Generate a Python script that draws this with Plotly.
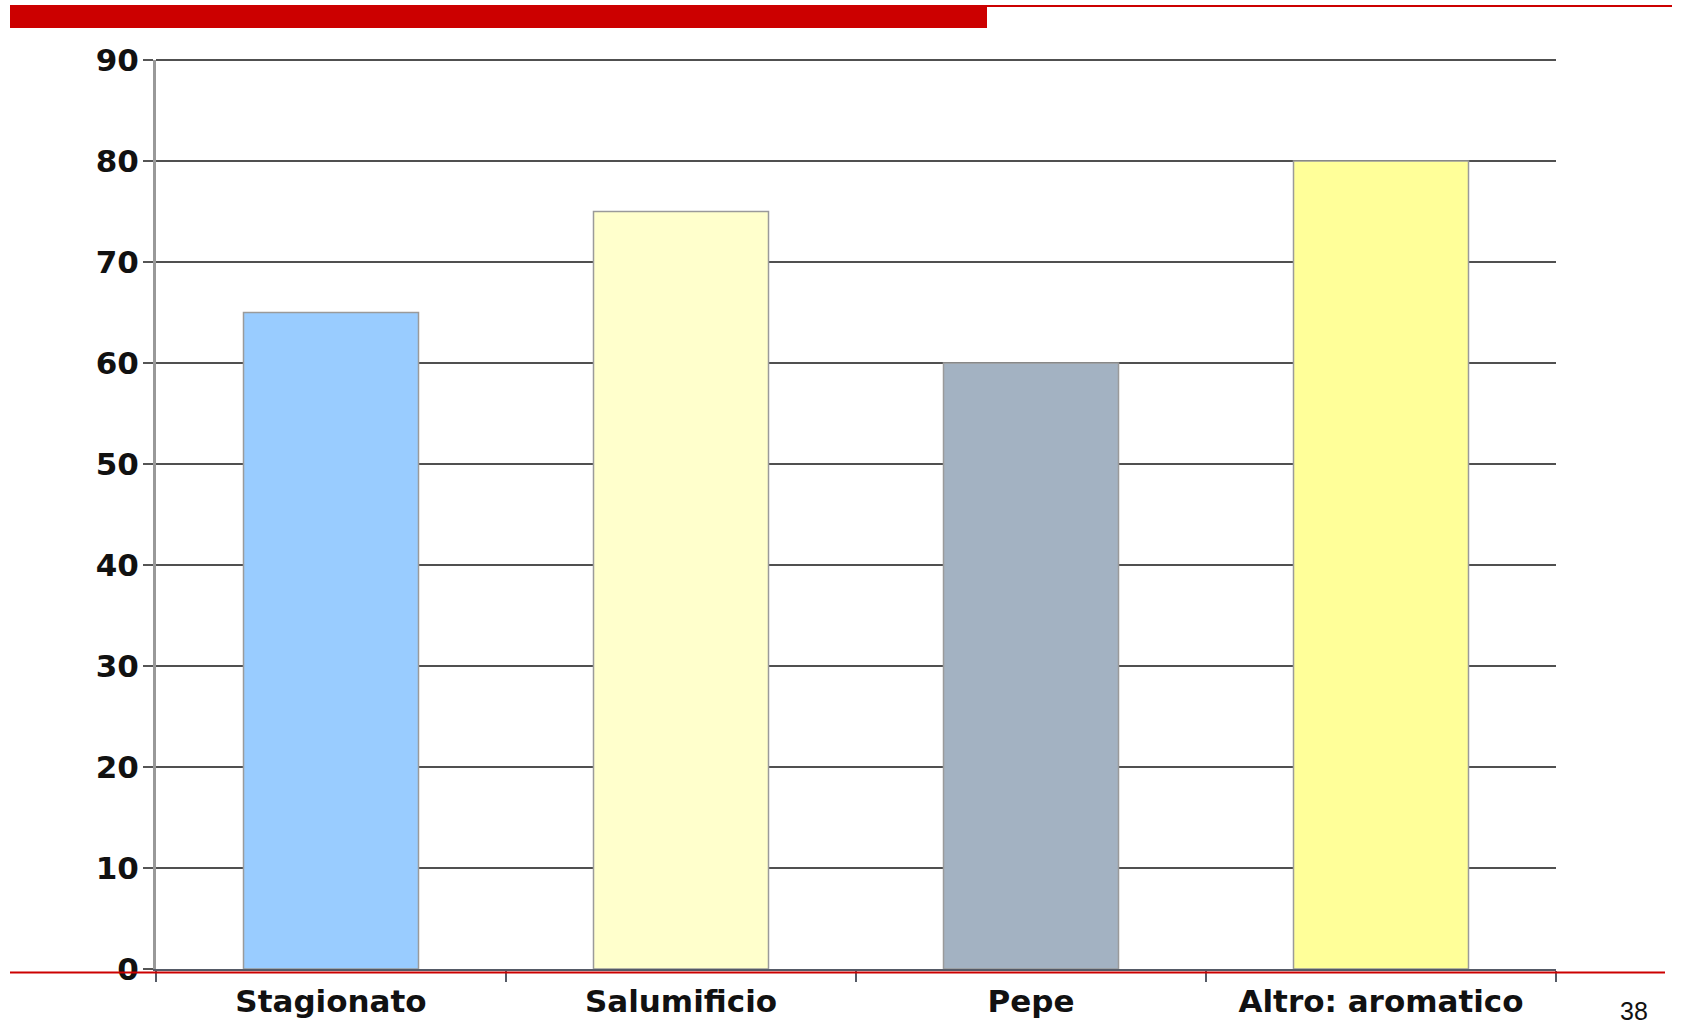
import plotly.graph_objects as go

categories = ["Stagionato", "Salumificio", "Pepe", "Altro: aromatico"]
values = [65, 75, 60, 80]
bar_colors = ["#99CCFF", "#FFFFCC", "#A3B2C2", "#FFFF99"]
y_ticks = [0, 10, 20, 30, 40, 50, 60, 70, 80, 90]
y_max = 90

W, H = 1681, 1024
L, R, T, B = 156, 125, 60, 55
pw, ph = W - L - R, H - T - B

def px(x):
    return (x - L) / pw

def py(y):
    return (H - B - y) / ph

fig = go.Figure()
fig.add_trace(go.Bar(
    x=categories, y=values,
    marker=dict(color=bar_colors, line=dict(color="#9a9a9a", width=1.5)),
    width=0.5,
))

font_bold = "DejaVu Sans"
fig.update_layout(
    width=W, height=H,
    margin=dict(l=L, r=R, t=T, b=B, pad=0, autoexpand=False),
    paper_bgcolor="white", plot_bgcolor="white",
    showlegend=False,
    bargap=0.5,
    xaxis=dict(
        automargin=False,
        showline=True, linecolor="#555a66", linewidth=2,
        ticks="outside", ticklen=11, tickwidth=2, tickcolor="#555a66",
        tickson="boundaries",
        showgrid=False,
        ticklabelstandoff=4,
        tickfont=dict(family=font_bold, size=31, color="#111111", weight="bold"),
    ),
    yaxis=dict(
        automargin=False,
        range=[0, y_max], tickvals=y_ticks,
        showline=True, linecolor="#999999", linewidth=3,
        ticks="outside", ticklen=10, tickwidth=2, tickcolor="#555555",
        showgrid=True, gridcolor="#505050", gridwidth=2,
        zeroline=False,
        ticklabelstandoff=-2,
        tickfont=dict(family=font_bold, size=31, color="#111111", weight="bold"),
    ),
    shapes=[
        # top gridline at the axis maximum (top edge of the plot area)
        dict(type="line", xref="paper", yref="paper",
             x0=0, x1=1, y0=1, y1=1,
             line=dict(color="#505050", width=2), layer="below"),
        dict(type="rect", xref="paper", yref="paper",
             x0=px(10), x1=px(987), y0=py(28), y1=py(5),
             fillcolor="#CC0000", line=dict(width=0), layer="above"),
        dict(type="line", xref="paper", yref="paper",
             x0=px(987), x1=px(1672), y0=py(6), y1=py(6),
             line=dict(color="#CC0000", width=2), layer="above"),
        dict(type="line", xref="paper", yref="paper",
             x0=px(10), x1=px(1665), y0=py(972.5), y1=py(972.5),
             line=dict(color="#CC0000", width=2), layer="above"),
    ],
    annotations=[
        dict(text="38", xref="paper", yref="paper",
             x=px(1634), y=py(1011), xanchor="center", yanchor="middle",
             showarrow=False,
             font=dict(family="Liberation Sans", size=25, color="#111111")),
    ],
)

fig.write_html("out.html")
